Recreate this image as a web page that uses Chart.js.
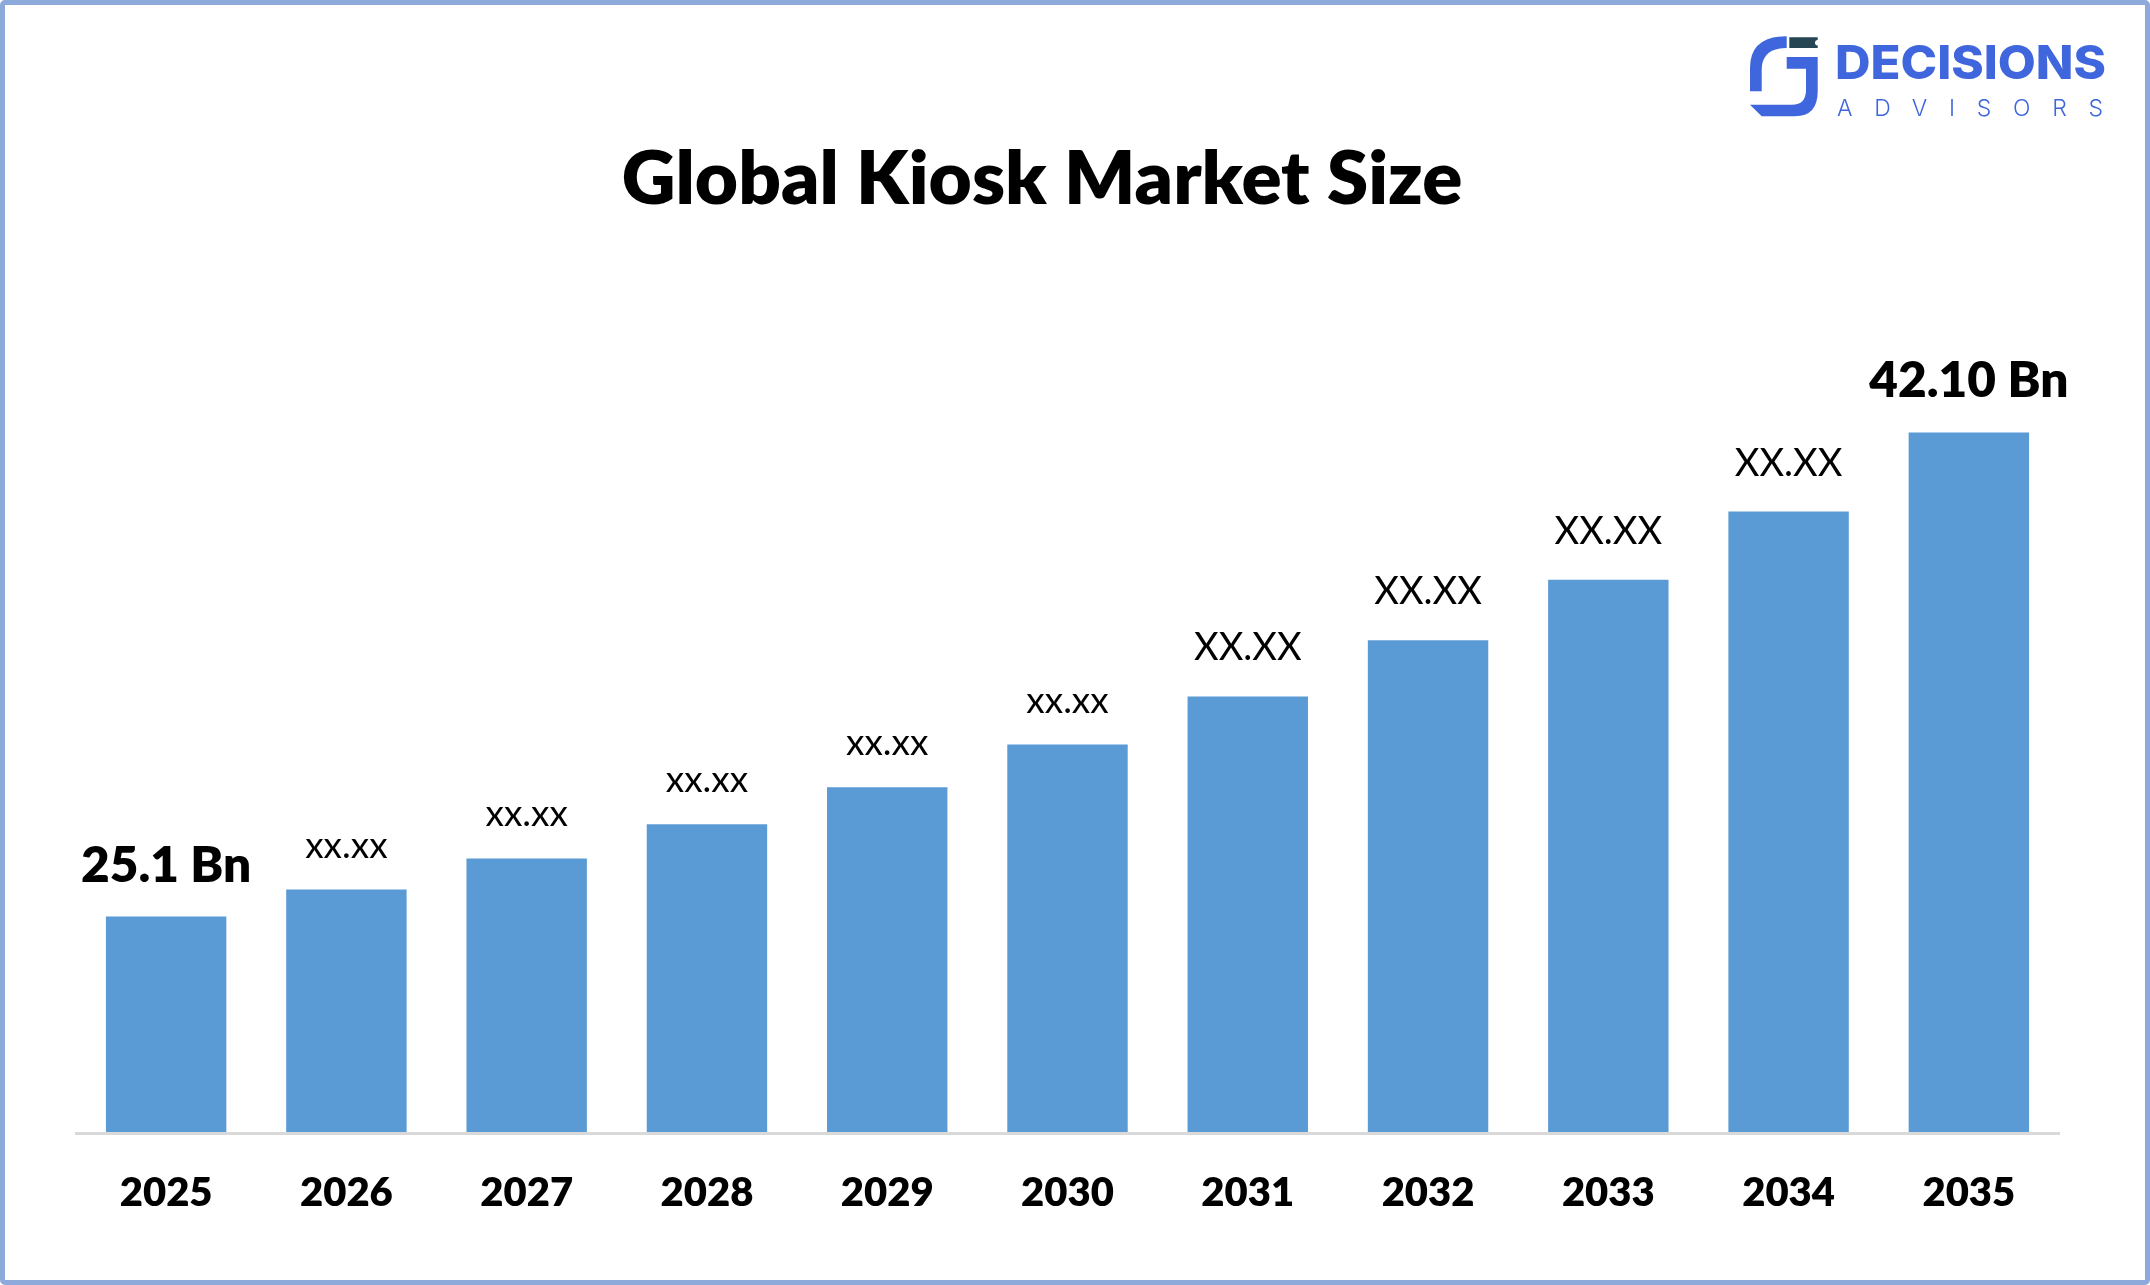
<!DOCTYPE html>
<html>
<head>
<meta charset="utf-8">
<title>Global Kiosk Market Size</title>
<script src="https://cdn.jsdelivr.net/npm/chart.js@4"></script>
<style>
  html, body { margin: 0; padding: 0; background: #fff; }
  #frame { position: absolute; left: 0; top: 0; width: 2150px; height: 1285px; box-sizing: border-box;
           border: 5px solid #8eaadb; border-radius: 5px; }
  #chartBox { position: absolute; left: 0; top: 0; width: 2084px; height: 1285px; }
  #logo { position: absolute; left: 0; top: 0; }
</style>
</head>
<body>
<div id="chartBox"><canvas id="myChart"></canvas></div>
<div id="frame"></div>
<svg id="logo" width="2150" height="1285" viewBox="0 0 2150 1285">
  <path fill="#3f66dc" d="M1750 91.3 H1761.7 V70 Q1761.7 48 1786.7 48 V36.3 Q1750 36.3 1750 68 Z"/>
  <path fill="#3f66dc" d="M1786.7 57 H1817.7 V91.3 Q1817.7 116.3 1795 116.3 H1761.7 L1750 104.7 H1792 Q1806 104.7 1806 90 V68.7 H1786.7 Z"/>
  <path fill="#264653" d="M1789.3 37.3 H1817.7 V40 A2.7 2.7 0 0 0 1817.7 45.4 V48 H1789.3 Z"/>
  <text x="1835" y="79" font-family="Inter" font-weight="800" font-size="46" fill="#3f66dc"
        textLength="271" lengthAdjust="spacingAndGlyphs">DECISIONS</text>
  <text x="1837" y="116" font-family="Inter" font-weight="300" font-size="23" fill="#3f66dc"
        textLength="266" lengthAdjust="spacing">ADVISORS</text>
</svg>
<script>
const years = ['2025', '2026', '2027', '2028', '2029', '2030', '2031', '2032', '2033', '2034', '2035']
const marketSize = [25.1, 26.05, 27.14, 28.34, 29.64, 31.14, 32.83, 34.8, 36.93, 39.32, 42.1]
const barLabels = ['25.1 Bn', 'xx.xx', 'xx.xx', 'xx.xx', 'xx.xx', 'xx.xx', 'XX.XX', 'XX.XX', 'XX.XX', 'XX.XX', '42.10 Bn']

// the bars are not drawn from zero in the original
const axisMin = 17.5
const axisMax = 48

function labelStyle(text) {
  if (text.endsWith('Bn')) return { font: '800 49.5px Lato', gap: 35 }
  if (text === 'XX.XX') return { font: '38px Lato', gap: 36 }
  return { font: '37px Lato', gap: 32 }
}

const barLabelPlugin = {
  id: 'barLabels',
  afterDatasetsDraw(chart) {
    const ctx = chart.ctx
    const bars = chart.getDatasetMeta(0).data
    ctx.save()
    ctx.fillStyle = '#000'
    ctx.textAlign = 'center'
    ctx.textBaseline = 'alphabetic'
    bars.forEach((bar, i) => {
      const style = labelStyle(barLabels[i])
      ctx.font = style.font
      ctx.fillText(barLabels[i], bar.x, bar.y - style.gap)
    })
    ctx.restore()
  }
}

var ctx = document.getElementById('myChart').getContext('2d')
var myBarChart = new Chart(ctx, {
  type: 'bar',
  data: {
    labels: years,
    datasets: [{
      data: marketSize,
      backgroundColor: '#5b9bd5',
      barPercentage: 0.668,
      categoryPercentage: 1
    }]
  },
  options: {
    responsive: true,
    maintainAspectRatio: false,
    animation: false,
    layout: {
      padding: { left: 0, right: 0, top: 0, bottom: 32 }
    },
    plugins: {
      legend: { display: false },
      tooltip: { enabled: false },
      title: {
        display: true,
        text: 'Global Kiosk Market Size',
        color: '#000',
        font: { family: 'Lato', weight: '800', size: 74.5 },
        padding: { top: 135, bottom: 40 }
      }
    },
    scales: {
      x: {
        grid: { display: false, drawTicks: false },
        border: { color: '#d9d9d9', width: 3, z: 1 },
        ticks: {
          color: '#000',
          padding: 36,
          maxRotation: 0,
          font: { family: 'Lato', weight: '800', size: 40 }
        }
      },
      y: {
        min: axisMin,
        max: axisMax,
        grid: { display: false },
        border: { display: false },
        ticks: { display: false },
        afterFit(scale) { scale.width = 76 }
      },
      // empty axis, only keeps room on the right without moving the title
      spacer: {
        position: 'right',
        grid: { display: false },
        border: { display: false },
        ticks: { display: false },
        afterFit(scale) { scale.width = 25 }
      }
    }
  },
  plugins: [barLabelPlugin]
})
</script>
</body>
</html>
